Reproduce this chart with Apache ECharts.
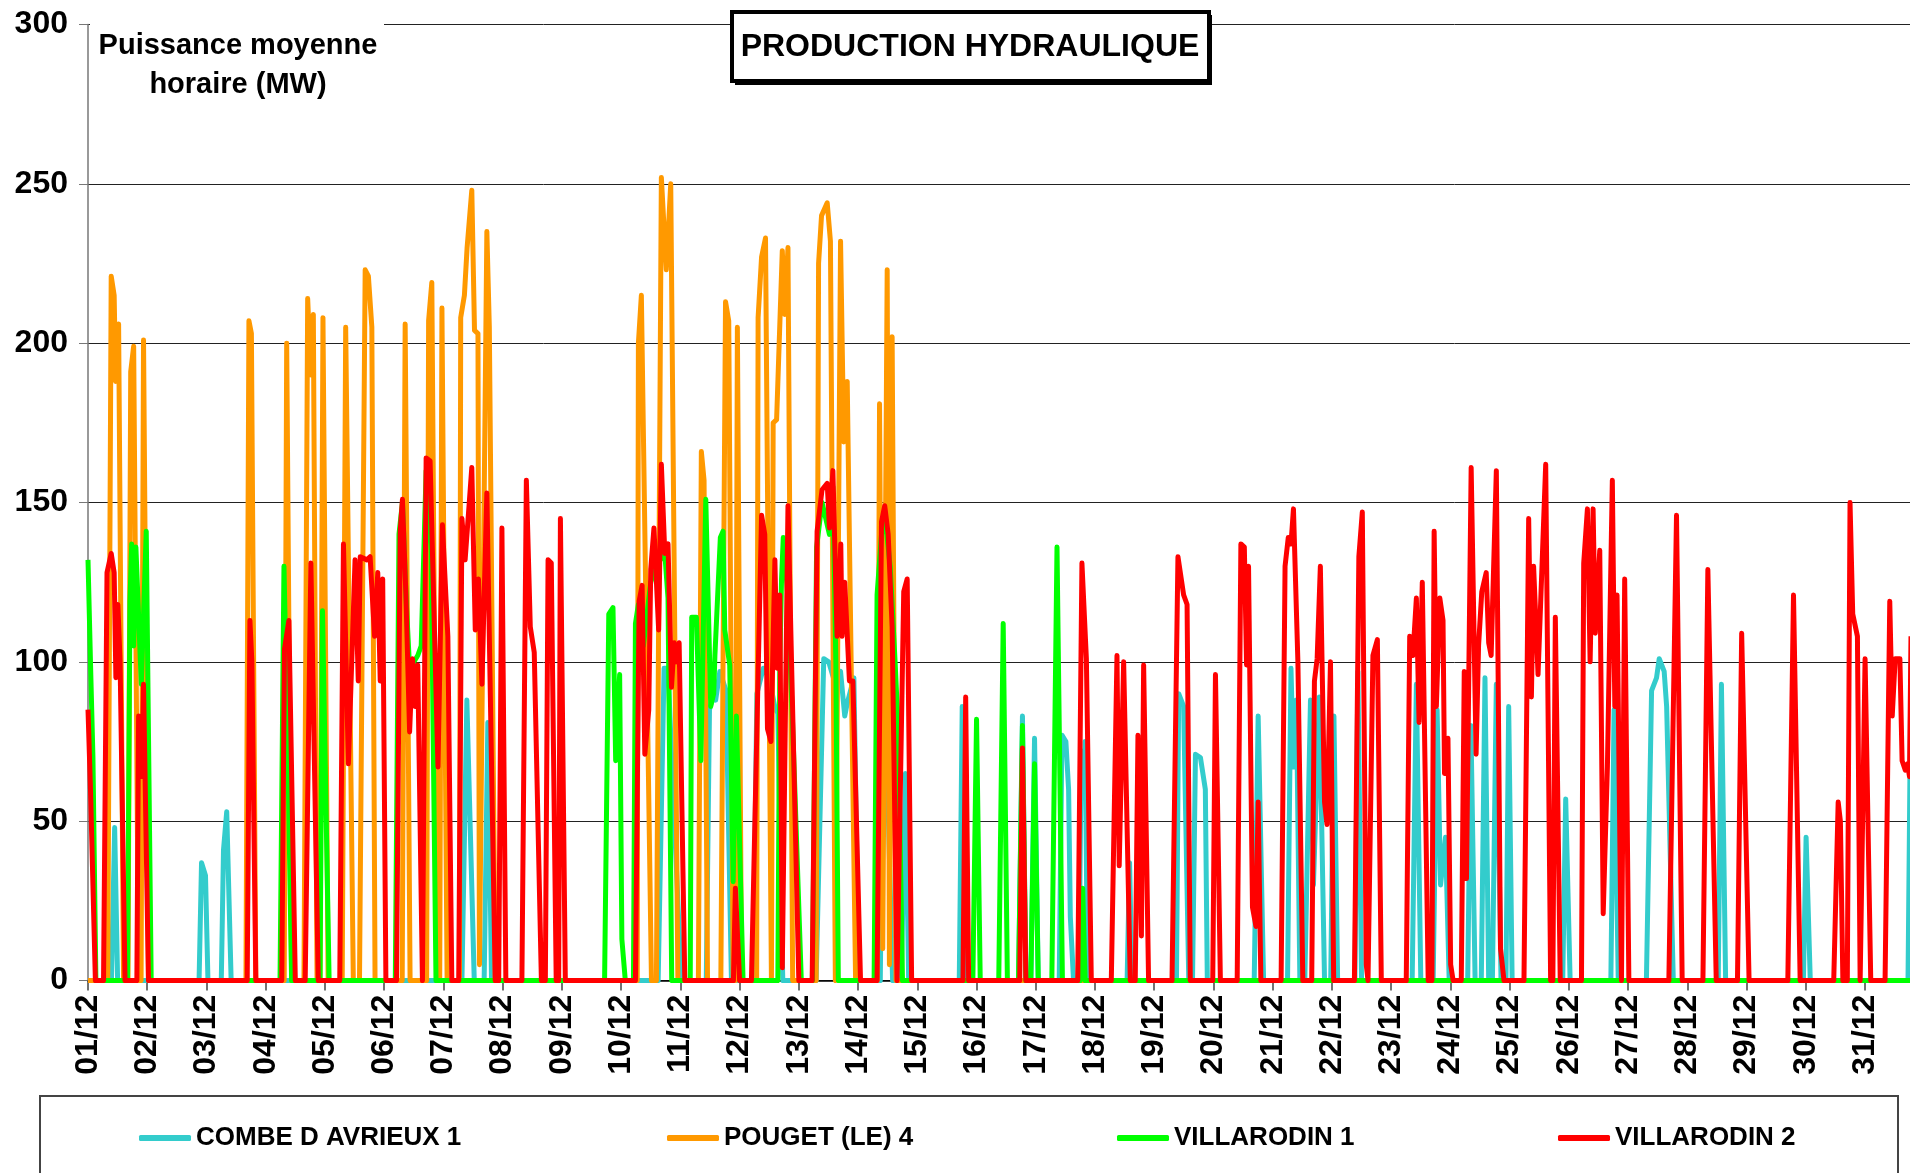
<!DOCTYPE html>
<html>
<head>
<meta charset="utf-8">
<script src="https://cdn.jsdelivr.net/npm/echarts@6/dist/echarts.min.js"></script>
<style>
  html, body { margin: 0; padding: 0; background: #fff; }
  #main { width: 1910px; height: 1173px; }
</style>
</head>
<body>
<div id="main"></div>
<script>
// hours from 01/12 00:00, values in MW
var dateLabels = ['01/12','02/12','03/12','04/12','05/12','06/12','07/12','08/12','09/12','10/12',
  '11/12','12/12','13/12','14/12','15/12','16/12','17/12','18/12','19/12','20/12','21/12',
  '22/12','23/12','24/12','25/12','26/12','27/12','28/12','29/12','30/12','31/12'];

var seriesNames = ['COMBE D AVRIEUX 1', 'POUGET (LE) 4', 'VILLARODIN 1', 'VILLARODIN 2'];
var seriesColors = ['#33CCCC', '#FF9900', '#00FF00', '#FF0000'];

var combeData = [
  [0,0],[9.5,0],[10.8,48],[12,0],[45,0],[46,37],[47.6,33],[48.6,0],[54,0],[54.9,41],[56.2,53],[58,0],
  [151.5,0],[153.5,88],[156.5,0],[160.5,0],[162,81],[163.5,0],
  [231,0],[233.4,98],[235,98],[237,60],[240.4,0],
  [250.5,0],[251.8,85],[253.7,91],[254.3,88],[256,97],[258.5,91],[260.7,0],
  [269.5,0],[271,90],[273.6,98],[276,95],[278.5,85],[279.5,84],[281.5,0],
  [295,0],[298.1,101],[300.1,100],[302,95],[304.9,97],[306.6,83],[307.6,87],[310.3,95],[312.3,0],
  [321,0],[322.3,95],[324,60],[326,0],[329.5,0],[331.2,65],[332.5,0],
  [353,0],[354.2,86],[355.5,0],[377,0],[378.6,83],[380,0],[382,0],[383.5,76],[385,0],
  [393.5,0],[394.6,77],[396.2,75],[397.3,60],[398,20],[399.3,0],
  [401.5,0],[402.4,72],[403.4,60],[404,75],[405,0],[421,0],[422,37],[423,0],
  [441,0],[441.9,90],[443.9,86],[446,0],[447.5,0],[448.7,71],[450.7,70],[452.7,60],[453.5,0],
  [472.5,0],[474.1,83],[476.3,0],[486,0],[487.4,98],[488.4,67],[489.6,88],[491,0],
  [493,0],[495.3,88],[496.5,30],[498.9,89],[501,0],[503.5,0],[504.8,83],[506.3,0],
  [513.3,0],[514.5,97],[516,0],[536.5,0],[538.2,93],[540,0],
  [545,0],[546.6,85],[548,30],[550,45],[551.5,0],[559,0],[560.3,80],[562,0],
  [564.5,0],[566,95],[567.5,0],[569,0],[570.6,93],[572.5,0],[574.5,0],[575.6,86],[577,0],
  [597.5,0],[598.7,57],[600.5,0],[617,0],[618.3,85],[620,0],
  [631.4,0],[633.5,91],[635.5,95],[636.6,101],[638.6,97],[639.6,86],[642.3,0],
  [660.5,0],[661.8,93],[663.5,0],[695,0],[696.1,45],[697.8,0],[737.4,0],[738.6,100]
];

var pougetData = [
  [0,0],[8,0],[9.4,221],[10.6,215],[11.2,188],[12.4,206],[14.4,0],
  [16.2,0],[17.3,191],[18.5,199],[20.5,0],[21.5,0],[22.5,201],[24.5,0],
  [64,0],[65.2,207],[66.2,203],[68,0],[79.5,0],[80.5,200],[82.5,0],
  [87.5,0],[89,214],[90.3,190],[91.3,209],[92.8,0],[94,0],[95.2,208],[97.3,0],
  [103,0],[104.4,205],[107.5,0],[110,0],[112.3,223],[113.6,221],[115,205],[116.3,0],
  [127.3,0],[128.5,206],[130.5,0],[137.2,0],[138,207],[139.3,219],[141.4,0],
  [142.5,0],[143.4,211],[145.5,0],
  [150.5,0],[151,208],[152.5,215],[153.6,230],[155.5,248],[156.6,204],[158,203],[158.6,5],
  [161.6,235],[162.6,205],[165,0],
  [222.5,0],[223,200],[224.2,215],[228.3,0],
  [230.3,0],[232.3,252],[234.3,223],[236.1,250],[239,0],
  [247.3,0],[248.5,166],[249.6,157],[251,0],[256.4,0],[258.3,213],[259.6,207],[261.4,0],
  [262.3,0],[263.1,205],[264.8,0],
  [270.9,0],[271.5,208],[272.9,227],[274.5,233],[276.9,0],[277.6,175],[279,176],
  [281.3,229],[282.3,209],[283.6,230],[285.5,0],
  [295,0],[296,225],[297.2,240],[299.5,244],[300.8,232],[302.8,0],
  [304.9,232],[306.2,169],[307.6,188],[311,0],
  [319.7,0],[320.7,181],[322,10],[323.8,223],[324.7,5],[325.8,202],[327.4,0],[738.6,0]
];

var villa1Data = [
  [0,132],[1,100],[2,70],[3.2,0],
  [16,0],[17,119],[17.7,137],[18.5,105],[19.4,136],[21.6,93],[23.6,141],[25.6,0],
  [77.8,0],[79.4,130],[81,70],[82.5,0],[94,0],[95,116],[97.7,0],
  [124.5,0],[126,140],[127.4,150],[129,118],[130.5,95],[132,100],[133.6,102],[135,105],
  [137,160],[139,135],[141,0],
  [209.3,0],[211,115],[212.7,117],[213.8,69],[215.4,96],[216.3,13],[217.7,0],
  [221,0],[221.8,112],[223,118],[225,105],[228,125],[230,130],[233.7,134],[235,120],[236.5,0],
  [244,0],[244.6,114],[246.5,114],[248.3,69],[250.3,151],[252.3,86],[253.5,90],[254,102],
  [256.2,139],[257.3,141],[258,110],[260,99],[261.4,31],[262.7,83],[263.5,83],[265.4,0],
  [279.5,0],[280.3,100],[281,126],[281.7,139],[283.6,120],[285.5,80],[289,0],
  [293.5,0],[295.2,136],[297.4,150],[300.4,140],[301.8,155],[303,100],[304,0],
  [318.5,0],[319.7,121],[321.5,140],[323,145],[325,130],[327,100],[328.3,78],[330,0],
  [358.5,0],[360,82],[361.5,0],[369,0],[370.8,112],[372.5,0],
  [377,0],[378.6,80],[380,0],[382,0],[383.5,68],[385,0],
  [390.5,0],[392.6,136],[394.8,0],[402,0],[403,29],[404,0],[738.6,0]
];

var villa2Data = [
  [0,85],[1,60],[3,0],
  [6.3,0],[7.7,128],[9.4,134],[10.6,128],[11.3,95],[12.1,118],[13,100],[15,0],
  [19.8,0],[20.5,83],[21.8,64],[22.5,93],[24.5,0],
  [64.5,0],[65.6,113],[66.4,100],[68,0],[78.5,0],[79.6,104],[81.4,113],[84,0],
  [88,0],[90.3,131],[93.3,0],
  [102,0],[103.5,137],[105.5,68],[108.2,132],[109.5,94],[110.3,133],[113,132],[114.3,133],
  [116.1,108],[117.4,128],[118.4,94],[119.4,126],[120.7,0],
  [125,0],[126.5,141],[127.4,151],[128.8,121],[130.3,78],[131.5,101],[132.6,86],[133.6,99],[135.5,0],
  [137,164],[138.6,163],[141.8,67],[143.6,143],[145.8,108],[147.4,0],
  [150.2,0],[151.5,145],[152.8,132],[155.5,161],[156.9,110],[158.2,126],[159.6,93],[161.6,153],[165,0],
  [166.4,0],[167.7,142],[169.3,0],[175.8,0],[177.6,157],[179.2,111],[180.8,103],[183.7,0],
  [185.3,0],[186.4,132],[187.7,131],[189.7,0],[190.7,0],[191.4,145],[193.4,0],
  [221.8,0],[223.3,119],[224.5,124],[225.6,71],[227.2,85],[228,129],[229.3,142],[231.2,110],
  [232.3,162],[233.7,134],[235,137],[236.4,92],[237.5,106],[238.4,100],[239.5,106],[241.8,0],
  [261.5,0],[262.3,29],[264,0],
  [268.8,0],[272.9,146],[274.2,140],[275.3,79],[276.7,75],[278.3,132],[279.2,98],[280.3,121],[281.3,4],
  [283.6,149],[288,0],
  [293.4,0],[295.4,141],[297.4,154],[299.5,156],[300.4,142],[301.8,160],[303.5,108],[305,137],
  [305.5,108],[306.6,125],[308.5,94],[309.9,94],[313,0],
  [319.7,0],[321.5,144],[322.8,149],[324.2,140],[325.8,111],[327.8,0],
  [328.5,0],[330.5,122],[331.9,126],[333.7,0],
  [354.5,0],[355.6,89],[356.8,0],[377.5,0],[378.6,73],[380,0],
  [401,0],[402.7,131],[404.5,101],[406.5,0],
  [414.6,0],[416.9,102],[417.8,36],[419.6,100],[422.3,0],
  [424.3,0],[425.4,77],[426.8,14],[427.7,99],[429.7,0],
  [439.2,0],[441.6,133],[443.9,121],[445.3,118],[446.6,0],[455.7,0],[456.8,96],[458.8,0],
  [465.6,0],[467.1,137],[468.5,136],[469.4,99],[470.2,130],[471.8,23],[473.2,17],[474.1,56],[475.2,0],
  [483.4,0],[485,130],[486.3,139],[487.4,137],[488.4,148],[490.2,100],[492.2,0],
  [495.8,0],[496.9,94],[498,101],[499.3,130],[501,56],[502,49],[503.4,100],[504.7,0],
  [513.1,0],[514.9,133],[516.3,147],[517.9,5],[518.6,0],[520.6,102],[522.4,107],[524,0],
  [534.1,0],[535.5,108],[536.8,102],[538.2,120],[539.3,81],[540.6,125],[543,0],
  [544.5,0],[545.4,141],[546.3,86],[547.7,120],[549,113],[549.6,65],[551,76],[552.1,5],[553.1,0],
  [556.4,0],[557.6,97],[558.5,32],[560.4,161],[562.4,71],[563.4,105],[564.7,122],[566.5,128],
  [567.5,106],[568.5,102],[570.6,160],[572.3,10],[573.7,0],
  [581.8,0],[583.7,145],[584.8,89],[585.7,130],[587.5,96],[590.6,162],[592.6,0],
  [593.5,0],[594.5,114],[596.5,0],
  [605.1,0],[606,131],[607.5,148],[608.6,100],[609.8,148],[610.7,109],[612.5,135],[613.9,21],
  [615.6,67],[617.6,157],[618.6,86],[619.5,121],[621.3,0],[621.8,0],[622.6,126],[624.3,0],
  [640.5,0],[643.6,146],[645.9,0],[654.3,0],[656.3,129],[659.7,0],[668.3,0],[670,109],[673,0],
  [688.7,0],[691,121],[693.7,0],
  [707.3,0],[709.1,56],[710,50],[711,0],[712.8,0],[713.9,150],[715,115],[716.9,108],[718,0],
  [718.5,0],[720,101],[722.3,0],
  [728.1,0],[730,119],[731,83],[732.2,101],[734.1,101],[735,69],[736.3,66],[737.2,68],[738,64],[738.6,108]
];

var allData = [combeData, pougetData, villa1Data, villa2Data];
var FONT = '"Liberation Sans", Arial, sans-serif';

var myChart = echarts.init(document.getElementById('main'));

var series = [];
for (var i = 0; i < 4; i++) {
    series.push({
        name: seriesNames[i],
        type: 'line',
        data: allData[i],
        showSymbol: false,
        clip: true,
        color: seriesColors[i],
        lineStyle: { width: 5, color: seriesColors[i], join: 'round' }
    });
}

var legendLefts = [134, 662, 1112, 1553];
var legends = [];
for (var i = 0; i < 4; i++) {
    legends.push({
        data: [seriesNames[i]],
        left: legendLefts[i],
        top: 1120,
        icon: 'roundRect',
        itemWidth: 52,
        itemHeight: 6,
        selectedMode: false,
        textStyle: { fontFamily: FONT, fontWeight: 'bold', fontSize: 26, color: '#000' }
    });
}

option = {
    animation: false,
    backgroundColor: '#fff',
    legend: legends,
    grid: { left: 88, right: 0, top: 24.4, bottom: 192.4, containLabel: false },
    xAxis: {
        type: 'value',
        min: 0,
        max: 738.2,
        interval: 24,
        axisLine: { show: true, onZero: false, lineStyle: { color: '#000', width: 1.5 } },
        axisTick: { show: true, length: 10, lineStyle: { color: '#444', width: 1.5 } },
        splitLine: { show: false },
        axisLabel: {
            rotate: 90,
            margin: 14,
            showMaxLabel: false,
            fontFamily: FONT, fontWeight: 'bold', fontSize: 32, color: '#000',
            formatter: function (v) {
                var k = Math.round(v / 24);
                if (Math.abs(v - k * 24) > 0.01) return '';
                return dateLabels[k] || '';
            }
        }
    },
    yAxis: {
        type: 'value',
        min: 0,
        max: 300,
        interval: 50,
        axisLine: { show: true, lineStyle: { color: '#777', width: 1.5 } },
        axisTick: { show: true, length: 9, lineStyle: { color: '#777' } },
        splitLine: { show: true, lineStyle: { color: '#222', width: 1 } },
        axisLabel: { margin: 20, fontFamily: FONT, fontWeight: 'bold', fontSize: 32, color: '#000' }
    },
    graphic: [
        { type: 'rect', z: 50, shape: { x: 90, y: 6, width: 294, height: 104 }, style: { fill: '#fff' } },
        { type: 'text', z: 51, x: 238, y: 65.5,
          style: { text: 'Puissance moyenne\nhoraire (MW)', font: 'bold 29px ' + FONT, fill: '#000',
                   textAlign: 'center', textVerticalAlign: 'middle', lineHeight: 39 } },
        { type: 'rect', z: 49, shape: { x: 735, y: 15, width: 477, height: 70 },
          style: { fill: '#000' } },
        { type: 'rect', z: 50, shape: { x: 732, y: 12, width: 477, height: 69 },
          style: { fill: '#fff', stroke: '#000', lineWidth: 4 } },
        { type: 'text', z: 51, x: 970, y: 47,
          style: { text: 'PRODUCTION HYDRAULIQUE', font: 'bold 32px ' + FONT, fill: '#000',
                   textAlign: 'center', textVerticalAlign: 'middle' } },
        { type: 'rect', z: 50, shape: { x: 40, y: 1096, width: 1858, height: 120 },
          style: { fill: 'none', stroke: '#444', lineWidth: 2 } }
    ],
    series: series
};

myChart.setOption(option);
</script>
</body>
</html>
